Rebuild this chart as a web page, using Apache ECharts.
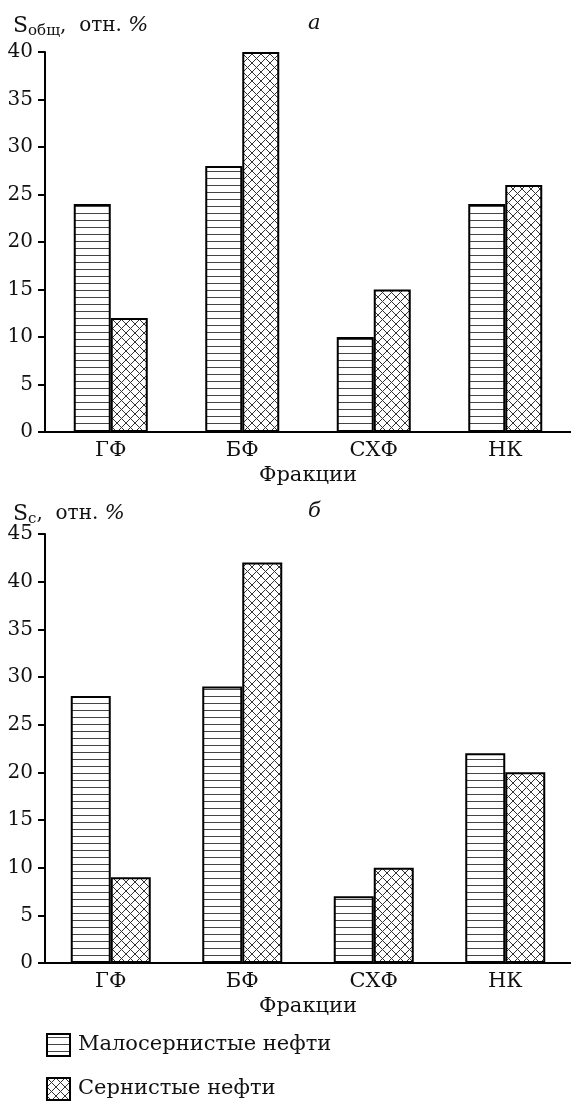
<!DOCTYPE html>
<html lang="ru">
<head>
<meta charset="UTF-8">
<title>Сера по фракциям</title>
<script src="https://cdn.jsdelivr.net/npm/echarts@6/dist/echarts.min.js"></script>
<style>
    body { margin: 0; background: #fff; }
    #Chart1 { width: 571px; height: 1101px; }
</style>
</head>
<body>
<div id="Chart1"></div>
<script>
// data
var categories = ['ГФ', 'БФ', 'СХФ', 'НК'];
var seriesNames = ['Малосернистые нефти', 'Сернистые нефти'];
// panel a: S общ, отн. %
var lowSulfurA = [24, 28, 10, 24];
var sulfurA = [12, 40, 15, 26];
// panel б: S c, отн. %
var lowSulfurB = [28, 29, 7, 22];
var sulfurB = [9, 42, 10, 20];

var FONT = 'DejaVu Serif';

// fill patterns like in the print
function stripePattern() {
    var c = document.createElement('canvas');
    c.width = 8; c.height = 7;
    var g = c.getContext('2d');
    g.fillStyle = '#fff';
    g.fillRect(0, 0, 8, 7);
    g.fillStyle = '#444';
    g.fillRect(0, 3, 8, 1);
    return { image: c, repeat: 'repeat' };
}
function crossPattern() {
    var c = document.createElement('canvas');
    c.width = 9; c.height = 9;
    var g = c.getContext('2d');
    g.fillStyle = '#fff';
    g.fillRect(0, 0, 9, 9);
    g.strokeStyle = '#333';
    g.lineWidth = 1;
    g.beginPath();
    g.moveTo(0, 0); g.lineTo(9, 9);
    g.moveTo(9, 0); g.lineTo(0, 9);
    g.stroke();
    return { image: c, repeat: 'repeat' };
}
var stripes = stripePattern();
var cross = crossPattern();

var myChart1 = echarts.init(document.getElementById('Chart1'), null, { renderer: 'canvas' });

function xAxisOf(gridIndex) {
    return {
        type: 'category',
        gridIndex: gridIndex,
        data: categories,
        name: 'Фракции',
        nameLocation: 'middle',
        nameGap: 33,
        nameTextStyle: { fontFamily: FONT, fontSize: 21, color: '#111' },
        axisLine: { lineStyle: { color: '#000', width: 2 } },
        axisTick: {
            length: 7,
            lineStyle: { color: '#000', width: 2 },
            interval: function (i) { return i !== 0; }
        },
        axisLabel: { margin: 8, fontFamily: FONT, fontSize: 21, color: '#111' },
        splitLine: { show: false }
    };
}
function yAxisOf(gridIndex, max) {
    return {
        type: 'value',
        gridIndex: gridIndex,
        min: 0,
        max: max,
        interval: 5,
        axisLine: { show: true, lineStyle: { color: '#000', width: 2 } },
        axisTick: { show: true, length: 7, lineStyle: { color: '#000', width: 2 } },
        axisLabel: { margin: 12, fontFamily: FONT, fontSize: 20, color: '#111' },
        splitLine: { show: false }
    };
}
function barSeries(name, values, idx, fill, width) {
    return {
        type: 'bar',
        name: name,
        xAxisIndex: idx,
        yAxisIndex: idx,
        data: values,
        barWidth: width,
        barGap: '0%',
        itemStyle: { color: fill, borderColor: '#000', borderWidth: 2 },
        emphasis: { disabled: true }
    };
}
function legendOf(name, top) {
    return {
        orient: 'vertical',
        left: 46,
        top: top,
        padding: 0,
        icon: 'rect',
        itemWidth: 23,
        itemHeight: 22,
        selectedMode: false,
        textStyle: { fontFamily: FONT, fontSize: 21, color: '#111', padding: [0, 0, 0, 3] },
        data: [name]
    };
}

var titleRich = {
    s: { fontFamily: FONT, fontSize: 22, fontWeight: 'normal', color: '#111', lineHeight: 26 },
    sub: { fontFamily: FONT, fontSize: 15, fontWeight: 'normal', color: '#111', lineHeight: 26, padding: [10, 0, 0, 0] },
    t: { fontFamily: FONT, fontSize: 20, fontWeight: 'normal', color: '#111', lineHeight: 26 },
    p: { fontFamily: FONT, fontSize: 21, fontWeight: 'normal', fontStyle: 'italic', color: '#111', lineHeight: 26 }
};

var option = {
    backgroundColor: '#fff',
    animation: false,
    title: [
        { text: '{s|S}{sub|общ}{t|,  отн. }{p|%}', left: 8, top: 8, textStyle: { fontWeight: 'normal', rich: titleRich } },
        { text: 'а', left: 303, top: 8, textStyle: { fontFamily: FONT, fontSize: 21, fontStyle: 'italic', fontWeight: 'normal', color: '#111' } },
        { text: '{s|S}{sub|с}{t|,  отн. }{p|%}', left: 8, top: 496, textStyle: { fontWeight: 'normal', rich: titleRich } },
        { text: 'б', left: 303, top: 496, textStyle: { fontFamily: FONT, fontSize: 21, fontStyle: 'italic', fontWeight: 'normal', color: '#111' } }
    ],
    legend: [legendOf(seriesNames[0], 1033), legendOf(seriesNames[1], 1077)],
    grid: [
        { left: 45, top: 52, width: 526, height: 380 },
        { left: 45, top: 534, width: 532, height: 429 }
    ],
    xAxis: [xAxisOf(0), xAxisOf(1)],
    yAxis: [yAxisOf(0, 40), yAxisOf(1, 45)],
    series: [
        barSeries(seriesNames[0], lowSulfurA, 0, stripes, 37),
        barSeries(seriesNames[1], sulfurA, 0, cross, 37),
        barSeries(seriesNames[0], lowSulfurB, 1, stripes, 40),
        barSeries(seriesNames[1], sulfurB, 1, cross, 40)
    ]
};

myChart1.setOption(option, true);
</script>
</body>
</html>
